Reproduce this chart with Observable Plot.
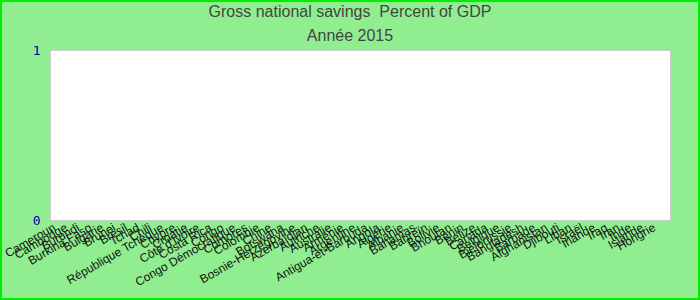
<!DOCTYPE html>
<html>
<head>
<meta charset="utf-8">
<script src="https://cdn.jsdelivr.net/npm/d3@7"></script>
<script src="https://cdn.jsdelivr.net/npm/@observablehq/plot@0.6"></script>
<style>
  body { margin: 0; }
  #wrap { position: relative; width: 700px; height: 300px; background: #90ee90; overflow: hidden; font-family: "Liberation Sans", Arial, sans-serif; }
  #border { position: absolute; left: 0; top: 0; width: 700px; height: 300px; box-sizing: border-box; border: 2px solid #00ee00; pointer-events: none; z-index: 5; }
  .t { position: absolute; left: 0; width: 700px; text-align: center; color: #444; font-size: 16px; white-space: pre; }
  #chart { position: absolute; left: 0; top: 44px; }
</style>
</head>
<body>
<div id="wrap">
  <div class="t" style="top:3px">Gross national savings  Percent of GDP</div>
  <div class="t" style="top:27px">Année 2015</div>
  <div id="chart"></div>
  <div id="border"></div>
</div>
<script>
const countries = ["Cameroun","Cambodge","Burundi","Burkina Faso","Bulgarie","Brunei","Brésil","Tchad","Chili","République Tchèque","Chypre","Croatie","Côte d'Ivoire","Costa Rica","Congo","Congo Démocratique","Comores","Colombie","Chine","Botswana","Bosnie-Herzégovine","Azerbaïdjan","Autriche","Australie","Arménie","Argentine","Antigua-et-Barbuda","Angola","Algérie","Albanie","Bahamas","Bahreïn","Bolivie","Bhoutan","Bénin","Belize","Canada","Belgique","Biélorussie","Bangladesh","Barbade","Afghanistan","Djibouti","Liban","Israël","Irlande","Iraq","Iran","Inde","Islande","Hongrie"];
const values = [0,0,0,0,0,0,0,0,0,0,0,0,0,0,0,0,0,0,0,0,0,0,0,0,0,0,0,0,0,0,0,0,0,0,0,0,0,0,0,0,0,0,0,0,0,0,0,0,0,0,0];
const yTicks = [0, 1];

const data = countries.map((c, i) => ({country: c, value: values[i]}));

const chart = Plot.plot({
  width: 700,
  height: 256,
  marginLeft: 50,
  marginRight: 30,
  marginTop: 6,
  marginBottom: 80,
  style: {background: "transparent", fontFamily: "'Liberation Sans', Arial, sans-serif"},
  x: {domain: countries, padding: 0.2, label: null},
  y: {domain: [0, 1], label: null},
  marks: [
    Plot.frame({fill: "white", stroke: "#cccccc"}),
    Plot.barY(data, {x: "country", y: "value", fill: "#4472c4"}),
    Plot.axisY({ticks: yTicks, tickFormat: d3.format("d"), tickSize: 0, tickPadding: 10, fill: "#0000aa", fontSize: 13, fontFamily: "'DejaVu Sans Mono', monospace", label: null}),
    Plot.axisX({tickSize: 0, tickPadding: 6, tickRotate: -30, fontSize: 12, fill: "#111", dx: -6, label: null})
  ]
});
document.getElementById("chart").appendChild(chart);
</script>
</body>
</html>
